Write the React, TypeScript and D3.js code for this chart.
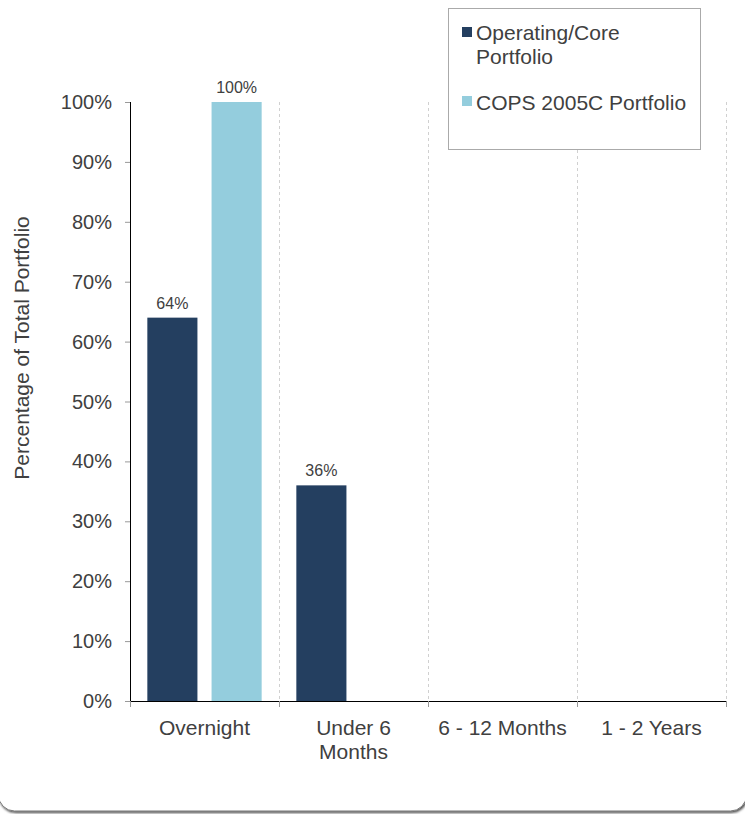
import React from "react";
import * as d3 from "d3";

const categories: string[][] = [["Overnight"], ["Under 6", "Months"], ["6 - 12 Months"], ["1 - 2 Years"]];
const seriesNames = ["Operating/Core Portfolio", "COPS 2005C Portfolio"];
const operatingCore: (number | null)[] = [64, 36, null, null];
const cops2005C: (number | null)[] = [100, null, null, null];
const yTicks = [0, 10, 20, 30, 40, 50, 60, 70, 80, 90, 100];
const colors = ["#243F60", "#94CDDD"];

const W = 745, H = 814;
const M = { left: 130, right: 726, top: 102, bottom: 701 };
const FONT = "'Liberation Sans', Arial, sans-serif";
const TXT = "#404040";

export default function App() {
  const keys = categories.map((c) => c.join(" "));
  const x0 = d3.scaleBand<string>().domain(keys).range([M.left, M.right]).padding(0);
  const x1 = d3.scaleBand<string>().domain(seriesNames).range([0, x0.bandwidth()]).paddingInner(0.22).paddingOuter(0.27);
  const y = d3.scaleLinear().domain([0, 100]).range([M.bottom, M.top]);
  const series = [operatingCore, cops2005C];
  const bounds = keys.map((k) => (x0(k) as number) + x0.bandwidth());
  const tickXs = [M.left, ...bounds];

  return (
    <svg width={W} height={H} style={{ position: "absolute", left: 0, top: 0, background: "#fff" }} fontFamily={FONT}>
      <defs>
        <filter id="sh" x="-5%" y="-5%" width="110%" height="110%">
          <feDropShadow dx="1" dy="1.5" stdDeviation="1" floodColor="#000" floodOpacity="0.7" />
        </filter>
      </defs>
      <rect x={-1.5} y={-30} width={748} height={841} rx={16} ry={16} fill="#fff" stroke="#777" strokeWidth={1} filter="url(#sh)" />
      {/* gridlines */}
      {bounds.map((bx, i) => (
        <line key={i} x1={bx + 0.5} x2={bx + 0.5} y1={M.top} y2={M.bottom} stroke="#d0d0d0" strokeDasharray="3,3" />
      ))}
      {/* bars */}
      {series.map((vals, si) =>
        vals.map((v, ci) => {
          if (v == null) return null;
          const bx = (x0(keys[ci]) as number) + (x1(seriesNames[si]) as number);
          return (
            <g key={`${si}-${ci}`}>
              <rect x={bx} y={y(v)} width={x1.bandwidth()} height={y(0) - y(v)} fill={colors[si]} />
              <text x={bx + x1.bandwidth() / 2} y={y(v) - 9} textAnchor="middle" fontSize={16} fill={TXT}>
                {`${v}%`}
              </text>
            </g>
          );
        })
      )}
      {/* y axis */}
      <line x1={M.left + 0.5} x2={M.left + 0.5} y1={M.top} y2={M.bottom} stroke="#000" />
      {yTicks.map((t) => (
        <g key={t}>
          <line x1={M.left - 5} x2={M.left} y1={y(t) + 0.5} y2={y(t) + 0.5} stroke="#999" />
          <text x={112} y={y(t) + 7} textAnchor="end" fontSize={20} fill={TXT}>{`${t}%`}</text>
        </g>
      ))}
      <text transform={`translate(29,348) rotate(-90)`} textAnchor="middle" fontSize={21} fill={TXT}>
        Percentage of Total Portfolio
      </text>
      {/* x axis */}
      <line x1={M.left} x2={M.right} y1={M.bottom + 0.5} y2={M.bottom + 0.5} stroke="#000" />
      {tickXs.map((tx, i) => (
        <line key={i} x1={tx + 0.5} x2={tx + 0.5} y1={M.bottom} y2={M.bottom + 6} stroke="#999" />
      ))}
      {categories.map((lines, i) => (
        <text key={i} textAnchor="middle" fontSize={21} fill={TXT}>
          {lines.map((l, j) => (
            <tspan key={j} x={(x0(keys[i]) as number) + x0.bandwidth() / 2} y={735 + j * 24}>{l}</tspan>
          ))}
        </text>
      ))}
      {/* legend */}
      <rect x={448.5} y={8.5} width={252} height={141} fill="#fff" stroke="#aaa" />
      <rect x={462} y={27} width={10} height={10} fill={colors[0]} />
      <text fontSize={21} fill={TXT}>
        <tspan x={476} y={40}>Operating/Core</tspan>
        <tspan x={476} y={64}>Portfolio</tspan>
      </text>
      <rect x={462} y={96} width={10} height={10} fill={colors[1]} />
      <text x={476} y={110} fontSize={21} fill={TXT}>COPS 2005C Portfolio</text>
    </svg>
  );
}
